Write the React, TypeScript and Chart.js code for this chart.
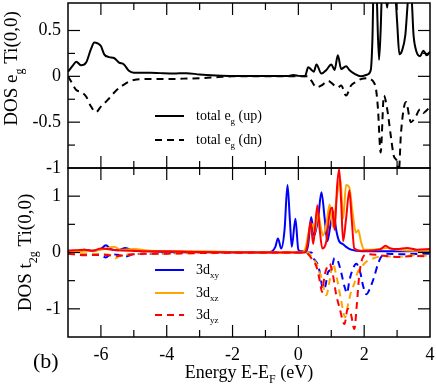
import React, { useEffect, useRef } from 'react';
import { Chart, registerables } from 'chart.js';

Chart.register(...registerables);

// ---- Top panel: e_g DOS of Ti(0,0) ----
const egUpE = [-7, -6.85, -6.75, -6.6, -6.45, -6.3, -6.2, -6.1, -6.0, -5.9, -5.75, -5.6, -5.45, -5.3, -5.15, -5.0, -4.5, -4.2, -3.8, -3.4, -3.0, -2.5, -2.0, -1.0, -0.3, -0.15, 0.0, 0.2, 0.3, 0.4, 0.47, 0.55, 0.7, 0.85, 1.0, 1.1, 1.2, 1.3, 1.45, 1.55, 1.7, 1.9, 2.1, 2.2, 2.25, 2.3, 2.37, 2.45, 2.5, 2.55, 2.65, 2.7, 2.75, 2.85, 2.95, 3.0, 3.07, 3.15, 3.25, 3.35, 3.42, 3.5, 3.58, 3.7, 3.8, 3.9, 4.0];
const egUp = [0.05, 0.12, 0.16, 0.12, 0.15, 0.3, 0.37, 0.36, 0.33, 0.24, 0.21, 0.2, 0.15, 0.13, 0.06, 0.04, 0.04, 0.035, 0.03, 0.035, 0.02, 0.01, 0.005, 0.005, 0.005, 0.015, 0.005, 0.0, 0.1, 0.07, 0.05, 0.13, 0.03, 0.07, 0.13, 0.07, 0.23, 0.08, 0.11, 0.07, 0.03, 0.0, 0.02, 0.07, 0.4, 1.2, 1.0, 0.18, 0.5, 1.0, 0.9, 0.75, 0.95, 0.9, 0.85, 0.6, 0.24, 0.28, 0.45, 0.9, 0.95, 0.45, 0.28, 0.22, 0.28, 0.23, 0.27];

const egDnE = [-7, -6.9, -6.75, -6.6, -6.45, -6.3, -6.15, -6.0, -5.8, -5.55, -5.3, -5.0, -4.5, -4.0, -3.5, -3.0, -2.5, -2.0, 0.3, 0.4, 0.55, 0.7, 0.9, 1.1, 1.2, 1.3, 1.45, 1.6, 1.75, 1.9, 2.1, 2.2, 2.3, 2.36, 2.42, 2.5, 2.6, 2.7, 2.82, 2.9, 3.0, 3.05, 3.12, 3.27, 3.42, 3.55, 3.7, 3.8, 3.9, 4.0];
const egDn = [0.0, -0.06, -0.15, -0.17, -0.22, -0.33, -0.39, -0.33, -0.26, -0.16, -0.09, -0.04, -0.03, -0.03, -0.025, -0.02, -0.01, 0.0, 0.0, -0.05, -0.12, -0.1, -0.05, -0.1, -0.12, -0.1, -0.21, -0.1, -0.06, -0.03, -0.02, -0.03, -0.07, -0.14, -0.36, -0.83, -0.21, -0.36, -0.68, -0.87, -0.93, -1.05, -0.61, -0.28, -0.5, -0.45, -0.36, -0.4, -0.37, -0.33];

// ---- Bottom panel: t2g DOS of Ti(0,0) ----
const xyUpE = [-7, -6.75, -6.5, -6.25, -6.0, -5.85, -5.7, -5.5, -5.25, -5.0, -4.5, -4.0, -3.0, -1.0, -0.8, -0.7, -0.62, -0.52, -0.42, -0.33, -0.26, -0.2, -0.09, 0.0, 0.1, 0.24, 0.3, 0.39, 0.48, 0.6, 0.7, 0.8, 0.88, 0.98, 1.07, 1.15, 1.24, 1.35, 1.45, 1.6, 1.8, 2.0, 3.0, 4.0];
const xyUp = [0.03, 0.02, 0.05, 0.03, 0.06, 0.13, 0.06, 0.04, 0.08, 0.03, 0.02, 0.01, 0.005, 0.0, 0.02, 0.1, 0.25, 0.07, 0.4, 1.2, 0.6, 0.1, 0.6, 0.05, 0.02, 0.02, 0.15, 0.63, 0.3, 0.6, 1.07, 0.6, 0.2, 0.5, 0.72, 0.4, 0.2, 0.15, 0.1, 0.05, 0.03, 0.02, 0.02, 0.02];

const xyDnE = [-7, -6.5, -6.0, -5.85, -5.7, -5.5, -5.25, -5.0, -4.5, -4.0, -3.0, 0.4, 0.48, 0.58, 0.65, 0.75, 0.82, 0.9, 1.0, 1.1, 1.2, 1.3, 1.4, 1.48, 1.55, 1.65, 1.76, 1.88, 1.97, 2.07, 2.2, 2.3, 2.42, 2.55, 2.7, 3.0, 4.0];
const xyDn = [-0.02, -0.03, -0.05, -0.09, -0.03, -0.04, -0.07, -0.03, -0.02, -0.01, 0.0, 0.0, -0.12, -0.2, -0.35, -0.65, -0.6, -0.35, -0.3, -0.1, -0.15, -0.35, -0.6, -0.72, -0.5, -0.3, -0.2, -0.35, -0.6, -0.74, -0.6, -0.44, -0.2, -0.05, -0.02, -0.03, -0.02];

const xzUpE = [-7, -6.5, -6.0, -5.6, -5.4, -5.0, -4.5, -4.0, -3.0, -2.0, -1.0, 0.1, 0.2, 0.33, 0.43, 0.5, 0.6, 0.68, 0.75, 0.85, 0.95, 1.05, 1.15, 1.28, 1.36, 1.45, 1.55, 1.65, 1.75, 1.82, 1.9, 2.0, 2.3, 2.7, 3.0, 3.5, 4.0];
const xzUp = [0.02, 0.03, 0.05, 0.1, 0.05, 0.06, 0.03, 0.02, 0.02, 0.01, 0.0, 0.01, 0.05, 0.4, 0.5, 0.35, 0.7, 0.45, 0.3, 0.5, 0.85, 0.45, 0.9, 1.3, 0.6, 1.2, 1.15, 0.7, 0.35, 0.4, 0.2, 0.05, 0.05, 0.08, 0.05, 0.03, 0.03];

const xzDnE = [-7, -6.0, -5.7, -5.55, -5.4, -5.0, -4.0, -3.0, 0.3, 0.42, 0.55, 0.7, 0.85, 0.95, 1.05, 1.15, 1.3, 1.42, 1.5, 1.6, 1.7, 1.8, 1.9, 2.0, 2.1, 2.3, 2.6, 3.0, 3.5, 4.0];
const xzDn = [-0.01, -0.03, -0.05, -0.1, -0.05, -0.03, -0.02, -0.01, 0.0, -0.1, -0.2, -0.45, -0.76, -0.5, -0.2, -0.4, -0.85, -1.15, -0.95, -0.7, -0.55, -0.35, -0.27, -0.2, -0.15, -0.1, -0.06, -0.08, -0.05, -0.06];

const yzUpE = [-7, -6.5, -6.25, -6.0, -5.5, -5.0, -4.5, -4.0, -3.0, -1.0, 0.2, 0.28, 0.37, 0.45, 0.58, 0.65, 0.73, 0.85, 0.95, 1.03, 1.1, 1.18, 1.24, 1.3, 1.36, 1.45, 1.55, 1.62, 1.7, 1.9, 2.3, 2.5, 2.65, 2.8, 3.0, 3.3, 3.6, 4.0];
const yzUp = [0.03, 0.05, 0.03, 0.07, 0.04, 0.03, 0.02, 0.02, 0.01, 0.0, 0.0, 0.15, 0.55, 0.15, 0.84, 0.4, 0.07, 0.2, 0.7, 0.8, 0.4, 1.2, 1.48, 0.9, 0.2, 0.6, 1.1, 0.6, 0.07, 0.03, 0.04, 0.06, 0.12, 0.07, 0.06, 0.08, 0.05, 0.06];

const yzDnE = [-7, -6.5, -6.0, -5.5, -5.0, -4.0, -3.0, 0.2, 0.3, 0.45, 0.55, 0.65, 0.72, 0.8, 0.95, 1.05, 1.15, 1.25, 1.4, 1.5, 1.6, 1.7, 1.78, 1.85, 1.95, 2.1, 2.5, 3.0, 3.5, 4.0];
const yzDn = [-0.02, -0.05, -0.04, -0.06, -0.03, -0.02, -0.01, 0.0, -0.03, -0.15, -0.25, -0.5, -0.7, -0.4, -0.2, -0.4, -0.75, -0.98, -1.27, -1.0, -1.1, -1.36, -0.9, -0.4, -0.1, -0.03, -0.05, -0.08, -0.06, -0.07];

// ---- Axis settings ----
const xRange = [-7, 4];
const egRange = [-1, 0.8];
const t2gRange = [-1.5, 1.5];

const SERIF = '"Liberation Serif", "DejaVu Serif", serif';

type Part = { t: string; sub?: boolean };

function richWidth(ctx: CanvasRenderingContext2D, parts: Part[], size: number) {
  let w = 0;
  for (const p of parts) {
    ctx.font = `${p.sub ? Math.round(size * 0.65) : size}px ${SERIF}`;
    w += ctx.measureText(p.t).width;
  }
  return w;
}

function drawRich(ctx: CanvasRenderingContext2D, parts: Part[], x: number, y: number, size: number, align: 'left' | 'center') {
  const w = richWidth(ctx, parts, size);
  let cx = align === 'center' ? x - w / 2 : x;
  ctx.textAlign = 'left';
  ctx.textBaseline = 'alphabetic';
  ctx.fillStyle = '#000';
  for (const p of parts) {
    const s = p.sub ? Math.round(size * 0.65) : size;
    ctx.font = `${s}px ${SERIF}`;
    ctx.fillText(p.t, cx, p.sub ? y + size * 0.3 : y);
    cx += ctx.measureText(p.t).width;
  }
}

const panelClip = {
  id: 'panelClip',
  beforeDatasetDraw(chart: any, args: any) {
    const ys = args.meta.yScale;
    const ca = chart.chartArea;
    const ctx = chart.ctx;
    ctx.save();
    ctx.beginPath();
    ctx.rect(ca.left, ys.top, ca.right - ca.left, ys.bottom - ys.top);
    ctx.clip();
  },
  afterDatasetDraw(chart: any) {
    chart.ctx.restore();
  },
};

const decorations = {
  id: 'decorations',
  afterDraw(chart: any) {
    const ctx: CanvasRenderingContext2D = chart.ctx;
    const ca = chart.chartArea;
    const xs = chart.scales.x;
    const yt = chart.scales.yTop;
    const yb = chart.scales.yBot;
    ctx.save();
    ctx.strokeStyle = '#000';
    ctx.lineWidth = 1.5;
    ctx.strokeRect(ca.left, yt.top, ca.right - ca.left, yt.bottom - yt.top);
    ctx.strokeRect(ca.left, yb.top, ca.right - ca.left, yb.bottom - yb.top);
    ctx.lineWidth = 1.2;
    const MAJ = 12, MIN = 7;
    const line = (x1: number, y1: number, x2: number, y2: number) => {
      ctx.beginPath();
      ctx.moveTo(x1, y1);
      ctx.lineTo(x2, y2);
      ctx.stroke();
    };
    for (let v = xRange[0] + 1; v < xRange[1]; v += 1) {
      const px = xs.getPixelForValue(v);
      const len = v % 2 === 0 ? MAJ : MIN;
      for (const s of [yt, yb]) {
        line(px, s.top, px, s.top + len);
        line(px, s.bottom, px, s.bottom - len);
      }
    }
    const yTicks = (s: any, lo: number, hi: number, step: number, majStep: number) => {
      const n = Math.round((hi - lo) / step);
      for (let i = 1; i < n; i++) {
        const v = lo + i * step;
        const py = s.getPixelForValue(v);
        const isMaj = Math.abs(v / majStep - Math.round(v / majStep)) < 1e-6;
        const len = isMaj ? MAJ : MIN;
        line(ca.left, py, ca.left + len, py);
        line(ca.right, py, ca.right - len, py);
      }
    };
    yTicks(yt, egRange[0], egRange[1], 0.25, 0.5);
    yTicks(yb, t2gRange[0], t2gRange[1], 0.5, 1);

    ctx.save();
    ctx.translate(17, (yt.top + yt.bottom) / 2 - 17);
    ctx.rotate(-Math.PI / 2);
    drawRich(ctx, [{ t: 'DOS e' }, { t: 'g', sub: true }, { t: ' Ti(0,0)' }], 0, 0, 19, 'center');
    ctx.restore();
    ctx.save();
    ctx.translate(31, (yb.top + yb.bottom) / 2);
    ctx.rotate(-Math.PI / 2);
    drawRich(ctx, [{ t: 'DOS t' }, { t: '2g', sub: true }, { t: ' Ti(0,0)' }], 0, 0, 19, 'center');
    ctx.restore();
    drawRich(ctx, [{ t: 'Energy E-E' }, { t: 'F', sub: true }, { t: ' (eV)' }], (ca.left + ca.right) / 2, 378, 18, 'center');
    drawRich(ctx, [{ t: '(b)' }], 33, 368, 22, 'left');

    const legend = (y: number, color: string, dash: number[], parts: Part[]) => {
      ctx.save();
      ctx.strokeStyle = color;
      ctx.lineWidth = 2;
      ctx.setLineDash(dash);
      line(155, y, 184, y);
      ctx.restore();
      drawRich(ctx, parts, 196, y + 4, 14, 'left');
    };
    legend(116, '#000', [], [{ t: 'total e' }, { t: 'g', sub: true }, { t: ' (up)' }]);
    legend(140, '#000', [7, 5], [{ t: 'total e' }, { t: 'g', sub: true }, { t: ' (dn)' }]);
    legend(270, '#0000ff', [], [{ t: '3d' }, { t: 'xy', sub: true }]);
    legend(293, '#ffa500', [], [{ t: '3d' }, { t: 'xz', sub: true }]);
    legend(315, '#ff0000', [7, 5], [{ t: '3d' }, { t: 'yz', sub: true }]);
    ctx.restore();
  },
};

const pts = (e: number[], v: number[]) => e.map((x, i) => ({ x, y: v[i] }));

const fitY = (s: any) => {
  s.width = 68;
  s.paddingTop = 0;
  s.paddingBottom = 0;
};

export default function App() {
  const ref = useRef<HTMLCanvasElement>(null);
  useEffect(() => {
    if (!ref.current) return;
    const ds = (data: any, color: string, dashed: boolean, axis: string) => ({
      data,
      borderColor: color,
      backgroundColor: color,
      borderWidth: 2,
      borderDash: dashed ? [7, 5] : [],
      pointRadius: 0,
      cubicInterpolationMode: 'monotone',
      fill: false,
      yAxisID: axis,
      xAxisID: 'x',
    });
    const tickFont = { family: SERIF, size: 18 };
    const chart = new Chart(ref.current, {
      type: 'line',
      data: {
        datasets: [
          ds(pts(yzUpE, yzUp), '#ff0000', false, 'yBot'),
          ds(pts(yzDnE, yzDn), '#ff0000', true, 'yBot'),
          ds(pts(xzUpE, xzUp), '#ffa500', false, 'yBot'),
          ds(pts(xzDnE, xzDn), '#ffa500', true, 'yBot'),
          ds(pts(xyUpE, xyUp), '#0000ff', false, 'yBot'),
          ds(pts(xyDnE, xyDn), '#0000ff', true, 'yBot'),
          ds(pts(egUpE, egUp), '#000000', false, 'yTop'),
          ds(pts(egDnE, egDn), '#000000', true, 'yTop'),
        ],
      },
      options: {
        animation: false,
        responsive: true,
        maintainAspectRatio: false,
        layout: { padding: { left: 0, top: 3, right: 6, bottom: 0 } },
        plugins: { legend: { display: false }, tooltip: { enabled: false } },
        scales: {
          x: {
            type: 'linear',
            position: 'bottom',
            min: xRange[0],
            max: xRange[1],
            grid: { display: false, drawTicks: false },
            border: { display: false },
            ticks: {
              stepSize: 1,
              autoSkip: false,
              maxRotation: 0,
              padding: 7,
              color: '#000',
              font: tickFont,
              callback: (v: any) => (Number(v) % 2 === 0 ? String(v) : ''),
            },
            afterFit: (s: any) => {
              s.height = 50;
              s.paddingLeft = 0;
              s.paddingRight = 0;
            },
          },
          yTop: {
            type: 'linear',
            position: 'left',
            stack: 'panels',
            stackWeight: 165,
            weight: 2,
            min: egRange[0],
            max: egRange[1],
            grid: { display: false, drawTicks: false },
            border: { display: false },
            ticks: {
              stepSize: 0.25,
              autoSkip: false,
              padding: 7,
              color: '#000',
              font: tickFont,
              callback: (v: any) => {
                const n = Number(v);
                return Math.abs(n * 2 - Math.round(n * 2)) < 1e-6 ? String(Math.round(n * 2) / 2) : '';
              },
            },
            afterFit: fitY,
          },
          yBot: {
            type: 'linear',
            position: 'left',
            stack: 'panels',
            stackWeight: 169,
            weight: 1,
            min: t2gRange[0],
            max: t2gRange[1],
            grid: { display: false, drawTicks: false },
            border: { display: false },
            ticks: {
              stepSize: 0.5,
              autoSkip: false,
              padding: 7,
              color: '#000',
              font: tickFont,
              callback: (v: any) => {
                const n = Number(v);
                return Math.abs(n - Math.round(n)) < 1e-6 ? String(Math.round(n)) : '';
              },
            },
            afterFit: fitY,
          },
        },
      } as any,
      plugins: [panelClip, decorations],
    });
    return () => chart.destroy();
  }, []);
  return (
    <div style={{ position: 'fixed', left: 0, top: 0, width: 436, height: 387, background: '#fff' }}>
      <canvas ref={ref} />
    </div>
  );
}
